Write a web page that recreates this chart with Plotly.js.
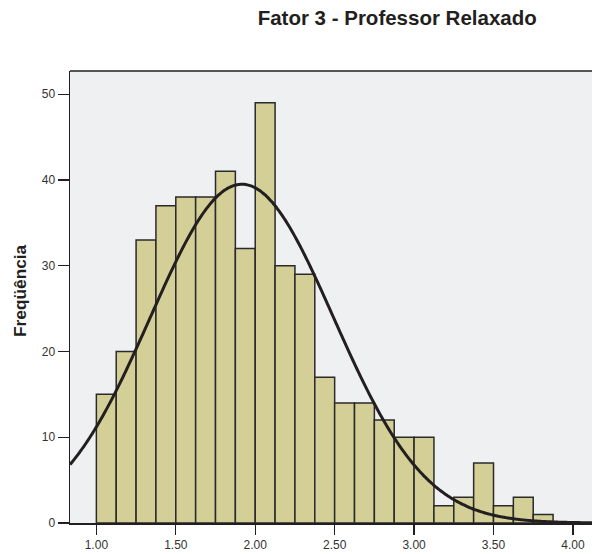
<!DOCTYPE html>
<html>
<head>
<meta charset="utf-8">
<script src="https://cdn.plot.ly/plotly-3.0.1.min.js"></script>
<style>html,body{margin:0;padding:0;background:#fff;}#chart{width:592px;height:554px;}</style>
</head>
<body>
<div id="chart"></div>
<script>
// Histogram bins (left edges, width 0.125) and frequencies
const binStarts = [1.000,1.125,1.250,1.375,1.500,1.625,1.750,1.875,2.000,2.125,2.250,2.375,2.500,2.625,2.750,2.875,3.000,3.125,3.250,3.375,3.500,3.625,3.750];
const counts    = [15,20,33,37,38,38,41,32,49,30,29,17,14,14,12,10,10,2,3,7,2,3,1];
const binWidth = 0.125;
// Fitted normal curve parameters
const fitMean = 1.916;
const fitSD = 0.577;
const xTickVals = [1.0,1.5,2.0,2.5,3.0,3.5,4.0];
const xTickText = ["1.00","1.50","2.00","2.50","3.00","3.50","4.00"];
const yTickVals = [0,10,20,30,40,50];

const N = counts.reduce((a,b)=>a+b,0);
const xRange = [0.834, 4.12];
const centers = binStarts.map(s => s + binWidth/2);

const cx = [], cy = [];
for (let i = 0; i <= 300; i++) {
  const x = xRange[0] + (xRange[1]-xRange[0]) * i / 300;
  const z = (x - fitMean) / fitSD;
  cx.push(x);
  cy.push(N * binWidth / (fitSD * Math.sqrt(2*Math.PI)) * Math.exp(-0.5*z*z));
}

const traces = [
  {type:'bar', x: centers, y: counts, width: binWidth,
   marker:{color:'#d3cf97', line:{color:'#2a2a2a', width:1.5}},
   hoverinfo:'skip', cliponaxis:true},
  {type:'scatter', mode:'lines', x: cx, y: cy,
   line:{color:'#231f20', width:3, shape:'spline'}, hoverinfo:'skip'}
];

const layout = {
  width:592, height:554,
  margin:{l:70, r:0, t:71, b:31},
  paper_bgcolor:'#ffffff', plot_bgcolor:'#eff0f2',
  showlegend:false, bargap:0,
  font:{family:'Liberation Sans, Arial, sans-serif', color:'#333333', size:12},
  title:{text:'<b>Fator 3 - Professor Relaxado</b>', xref:'container', x:0.671, xanchor:'center',
         yref:'container', y:0.968, yanchor:'middle',
         font:{family:'Liberation Sans, Arial, sans-serif', size:20.5, color:'#231f20'}},
  xaxis:{range:xRange, tickvals:xTickVals, ticktext:xTickText, showgrid:false, zeroline:false,
         showline:true, linecolor:'#231f20', linewidth:1.5, ticks:'outside', ticklen:10,
         tickcolor:'#231f20', tickwidth:1.3, tickfont:{size:12, color:'#333333'}},
  yaxis:{range:[0,52.7], tickvals:yTickVals, showgrid:false, zeroline:false,
         showline:true, linecolor:'#231f20', linewidth:1.5, ticks:'outside', ticklen:11,
         tickcolor:'#231f20', tickwidth:1.3, tickfont:{size:12, color:'#333333'}},
  annotations:[{text:'<b>Freqüência</b>', textangle:-90, xref:'paper', yref:'paper',
                x:-0.0958, y:0.5155, xanchor:'center', yanchor:'middle', showarrow:false,
                font:{size:17.3, color:'#231f20'}}],
  shapes:[{type:'line', xref:'paper', yref:'paper', x0:0, x1:1.05, y0:1, y1:1,
           line:{color:'#231f20', width:1.5}}]
};

Plotly.newPlot('chart', traces, layout, {displayModeBar:false, staticPlot:true});
</script>
</body>
</html>
